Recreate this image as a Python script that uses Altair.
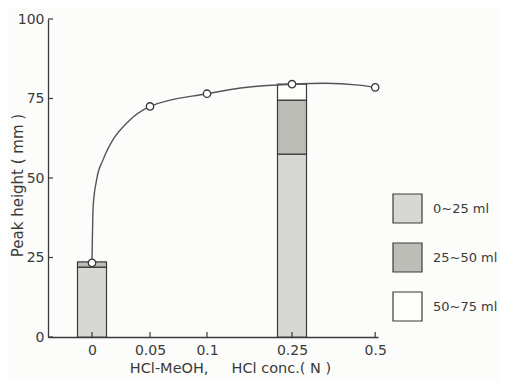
import altair as alt
import pandas as pd

# HCl concentrations (N) and measured peak heights (mm)
conc = [0, 0.05, 0.1, 0.25, 0.5]
peak = [23.3, 72.5, 76.5, 79.5, 78.5]

# smooth curve
curve_x = [0, 0.001, 0.004, 0.0095, 0.018, 0.03, 0.05, 0.1, 0.175, 0.25, 0.35, 0.45, 0.5]
curve_y = [23.3, 41.0, 49.5, 55.7, 62.0, 67.3, 72.5, 76.5, 78.6, 79.5, 79.8, 79.2, 78.5]

# stacked fractions of the eluate
bar_conc = [0, 0, 0.25, 0.25, 0.25]
bar_frac = ["0~25 ml", "25~50 ml", "0~25 ml", "25~50 ml", "50~75 ml"]
bar_order = [1, 2, 1, 2, 3]
bar_amount = [22.0, 1.6, 57.5, 17.0, 5.0]

fractions = ["0~25 ml", "25~50 ml", "50~75 ml"]
frac_colors = ["#d7d7d3", "#bdbdb8", "#fdfdfb"]

y_ticks = [0, 25, 50, 75, 100]

FONT = "DejaVu Sans"
INK = "#3a3a3a"
NB = "\u00a0"

xscale = alt.Scale(domain=[-0.04, 0, 0.05, 0.1, 0.25, 0.5],
                   range=[0, 44, 102, 159, 244, 330], nice=False, zero=False)
yscale = alt.Scale(domain=[0, 100], nice=False)

bars_df = pd.DataFrame({"conc": bar_conc, "frac": bar_frac,
                        "ord": bar_order, "amount": bar_amount})
pts_df = pd.DataFrame({"conc": conc, "peak": peak})
curve_df = pd.DataFrame({"conc": curve_x, "peak": curve_y})
xt_df = pd.DataFrame({"v": conc})
yt_df = pd.DataFrame({"v": y_ticks})

x_axis = alt.Axis(values=conc, labelExpr="'' + datum.value", tickSize=0,
                  grid=False, domainColor=INK, domainWidth=1.3,
                  labelFont=FONT, labelFontSize=14, labelColor=INK, labelPadding=6,
                  title="HCl-MeOH," + NB * 5 + "HCl conc.( N )", titleFont=FONT,
                  titleFontSize=14.5, titleFontWeight="normal", titleColor=INK,
                  titlePadding=4, titleX=182, titleAnchor="middle")
y_axis = alt.Axis(values=y_ticks, tickSize=0, grid=False, domainColor=INK,
                  domainWidth=1.3, labelFont=FONT, labelFontSize=14,
                  labelColor=INK, labelPadding=4,
                  title="Peak height ( mm )", titleFont=FONT, titleFontSize=15,
                  titleFontWeight="normal", titleColor=INK,
                  titleX=-31, titleY=166, titleAlign="center",
                  titleBaseline="middle", titleAngle=270)

bars = alt.Chart(bars_df).mark_bar(width=29, stroke=INK, strokeWidth=1.2).encode(
    x=alt.X("conc:Q", scale=xscale, axis=x_axis),
    y=alt.Y("sum(amount):Q", scale=yscale, axis=y_axis, stack="zero"),
    color=alt.Color("frac:N", scale=alt.Scale(domain=fractions, range=frac_colors),
                    legend=alt.Legend(title=None, orient="none", legendX=344,
                                      legendY=174, symbolType="square",
                                      symbolSize=841, symbolStrokeColor=INK,
                                      symbolStrokeWidth=1.2, symbolOpacity=1,
                                      rowPadding=14, labelOffset=10,
                                      labelFont=FONT, labelFontSize=13,
                                      labelLimit=200,
                                      labelColor=INK, padding=0)),
    order=alt.Order("ord:Q"),
)

line = alt.Chart(curve_df).mark_line(interpolate="monotone", color="#555555",
                                     strokeWidth=1.4).encode(
    x=alt.X("conc:Q", scale=xscale), y=alt.Y("peak:Q", scale=yscale))

points = alt.Chart(pts_df).mark_point(shape="circle", size=55, filled=True,
                                      fill="white", stroke=INK, strokeWidth=1.3,
                                      opacity=1).encode(
    x=alt.X("conc:Q", scale=xscale), y=alt.Y("peak:Q", scale=yscale))

xticks = alt.Chart(xt_df).mark_rule(color=INK, strokeWidth=1.2).encode(
    x=alt.X("v:Q", scale=xscale), y=alt.value(318), y2=alt.value(313))
yticks = alt.Chart(yt_df).mark_rule(color=INK, strokeWidth=1.2).encode(
    y=alt.Y("v:Q", scale=yscale), x=alt.value(0), x2=alt.value(5))

chart = alt.layer(bars, line, points, xticks, yticks).properties(
    width=330, height=318,
    autosize=alt.AutoSizeParams(type="none"),
    padding={"left": 40, "top": 11, "right": 122, "bottom": 44},
    background="#fcfcfa",
).configure_view(stroke=None)

chart.save("out.html", embed_options={"renderer": "svg", "actions": False})
